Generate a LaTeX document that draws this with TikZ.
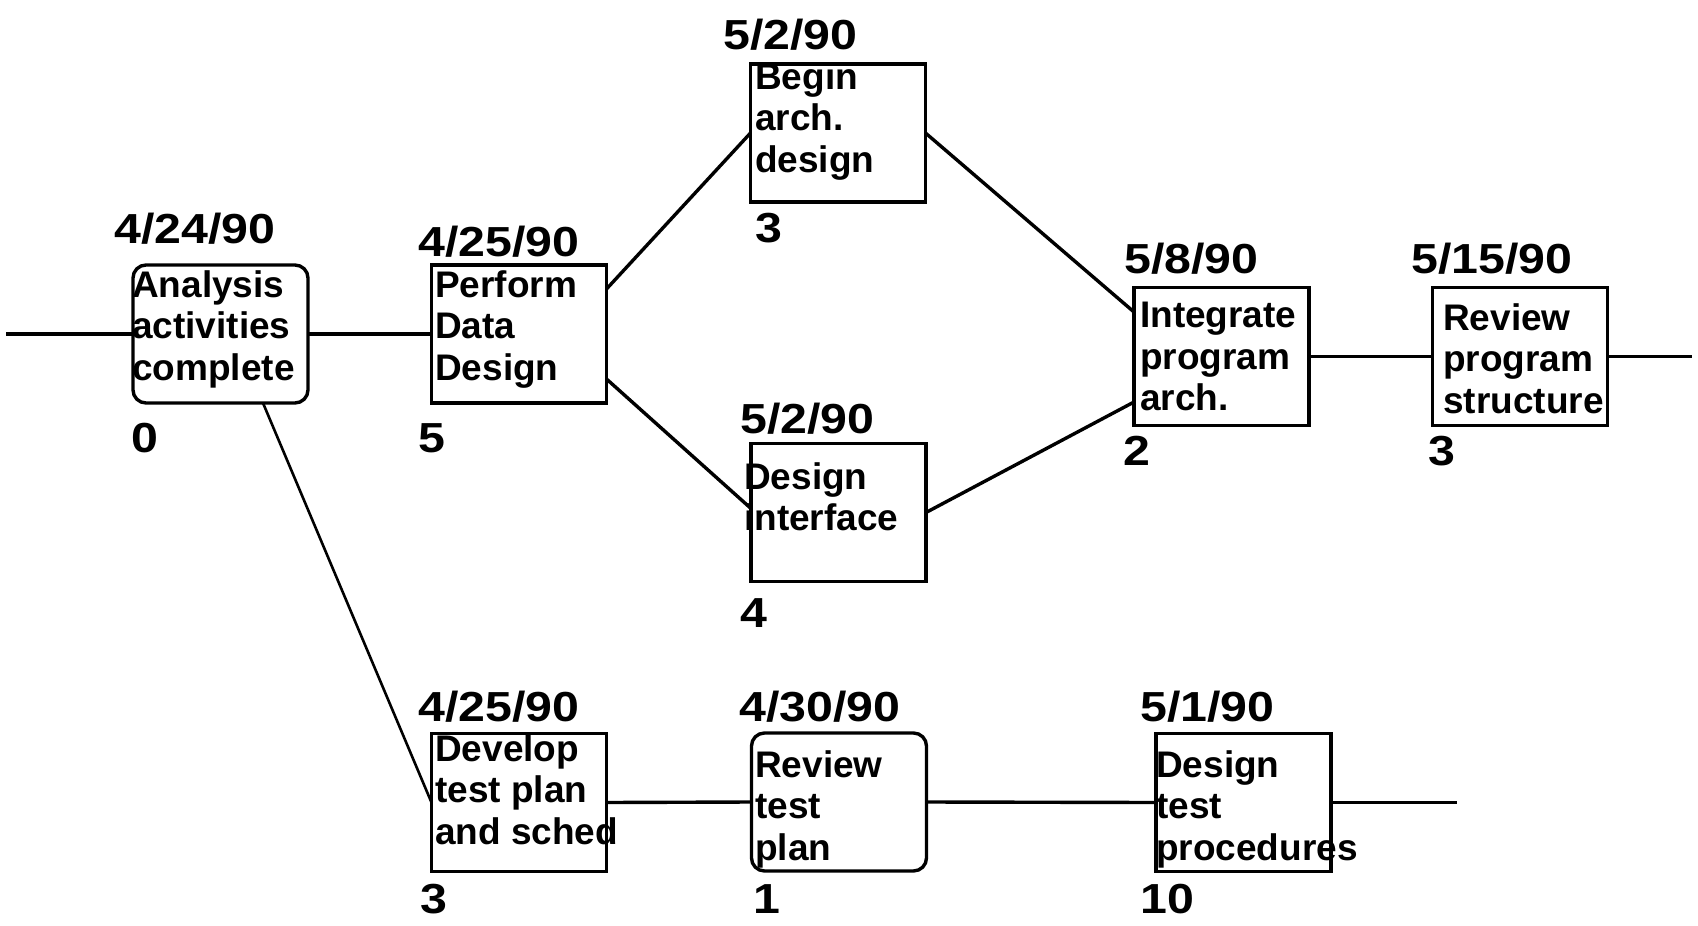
\documentclass[tikz,border=0pt]{standalone}
\usepackage{fontspec}
\setmainfont{Liberation Sans}
\newfontfamily\datefont{Liberation Sans}[FakeStretch=1.15]
\begin{document}
\begin{tikzpicture}[x=1pt,y=-1pt,
  box/.style={draw, line width=3.4pt, minimum width=175pt, minimum height=138pt, inner sep=0pt, outer sep=0pt},
  rbox/.style={box, rounded corners=13pt},
  lbl/.style={anchor=north west, inner sep=0pt, align=left, font=\fontsize{37}{41.5}\selectfont\bfseries},
  datelbl/.style={anchor=base west, inner sep=0pt, font=\datefont\fontsize{42}{48}\selectfont\bfseries},
  conn/.style={line width=3.4pt}]
\path[use as bounding box, fill=white] (0,0) rectangle (1698,926);

% boxes
\node[rbox] (analysis)   at (220.5,334) {};
\node[box]  (perform)    at (519,334) {};
\node[box]  (begin)      at (838,133) {};
\node[box]  (interface)  at (838.5,512.5) {};
\node[box]  (integrate)  at (1221.5,356.5) {};
\node[box]  (reviewprog) at (1520,356.5) {};
\node[box]  (develop)    at (519,802.5) {};
\node[rbox] (reviewtest) at (839,802) {};
\node[box]  (designtest) at (1243.5,802.5) {};

% texts in boxes
\node[lbl] (analysis-t)   at (132,270) {Analysis\\activities\\complete};
\node[lbl] (perform-t)    at (435,270) {Perform\\Data\\Design};
\node[lbl] (begin-t)      at (755,62) {Begin\\arch.\\design};
\node[lbl] (interface-t)  at (744,462) {Design\\interface};
\node[lbl] (integrate-t)  at (1140,302) {Integrate\\program\\arch.};
\node[lbl] (reviewprog-t) at (1443,303) {Review\\program\\structure};
\node[lbl] (develop-t)    at (435,734) {Develop\\test plan\\and sched};
\node[lbl] (reviewtest-t) at (755,750) {Review\\test\\plan};
\node[lbl] (designtest-t) at (1156,750) {Design\\test\\procedures};

% dates
\node[datelbl] (analysis-d)   at (114,243) {4/24/90};
\node[datelbl] (perform-d)    at (418,256) {4/25/90};
\node[datelbl] (begin-d)      at (723,49) {5/2/90};
\node[datelbl] (interface-d)  at (740,433) {5/2/90};
\node[datelbl] (integrate-d)  at (1124,273) {5/8/90};
\node[datelbl] (reviewprog-d) at (1411,273) {5/15/90};
\node[datelbl] (develop-d)    at (418,721) {4/25/90};
\node[datelbl] (reviewtest-d) at (739,721) {4/30/90};
\node[datelbl] (designtest-d) at (1140,721) {5/1/90};

% durations
\node[datelbl] (analysis-n)   at (131,452) {0};
\node[datelbl] (perform-n)    at (418,452) {5};
\node[datelbl] (begin-n)      at (755,242) {3};
\node[datelbl] (interface-n)  at (740,627) {4};
\node[datelbl] (integrate-n)  at (1123,465) {2};
\node[datelbl] (reviewprog-n) at (1428,465) {3};
\node[datelbl] (develop-n)    at (420,913) {3};
\node[datelbl] (reviewtest-n) at (753,913) {1};
\node[datelbl] (designtest-n) at (1140,913) {10};

% free ends
\coordinate (in0)  at (6,334);
\coordinate (out1) at (1692,356.5);
\coordinate (out2) at (1457,802.5);

% connectors
\draw[conn] (in0) -- (analysis.west);
\draw[conn] (analysis.east) -- (perform.west);
\draw[conn, line width=2.6pt] ([xshift=42.5pt]analysis.south) -- (develop.west);
\draw[conn] ([yshift=45pt]perform.east) -- (begin.west);
\draw[conn] ([yshift=-45pt]perform.east) -- ([yshift=4pt]interface.west);
\draw[conn] (begin.east) -- ([yshift=44.5pt]integrate.west);
\draw[conn] (interface.east) -- ([yshift=-45.5pt]integrate.west);
\draw[conn] (integrate.east) -- (reviewprog.west);
\draw[conn] (reviewprog.east) -- (out1);
\draw[conn] (develop.east) -- (reviewtest.west);
\draw[conn] (reviewtest.east) -- (designtest.west);
\draw[conn] (designtest.east) -- (out2);
\end{tikzpicture}
\end{document}
